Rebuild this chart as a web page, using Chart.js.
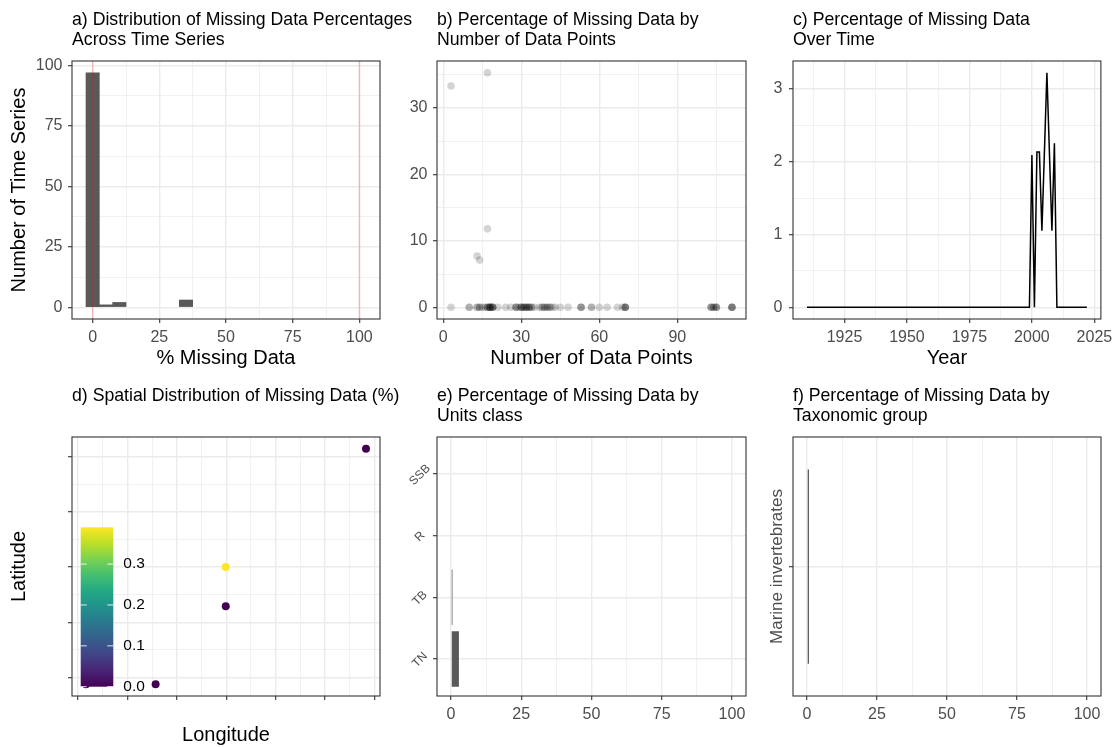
<!DOCTYPE html>
<html>
<head>
<meta charset="utf-8">
<title>Missing data overview</title>
<script src="https://cdn.jsdelivr.net/npm/chart.js@4.4.1/dist/chart.umd.min.js"></script>
<style>
  html, body { margin: 0; padding: 0; background: #ffffff; }
  #wrap { position: relative; width: 1117px; height: 747px; }
  #wrap canvas { position: absolute; left: 0; top: 0; }
</style>
</head>
<body>
<div id="wrap">
  <canvas id="pa" width="1117" height="747"></canvas>
  <canvas id="pb" width="1117" height="747"></canvas>
  <canvas id="pc" width="1117" height="747"></canvas>
  <canvas id="pd" width="1117" height="747"></canvas>
  <canvas id="pe" width="1117" height="747"></canvas>
  <canvas id="pf" width="1117" height="747"></canvas>
</div>
<script>
// a) histogram of % missing per series (bin centres, binwidth 5)
var histBins = [0, 5, 10, 35];
var histCounts = [97, 1, 2, 3];
var refLines = [0, 100];

// b) % missing vs number of data points, one entry per series
var nPoints = [3, 17, 17, 13, 14,
  3, 10, 10, 13, 13, 14, 14, 15, 16, 17, 17, 17, 18, 18, 18, 18, 18, 19, 19, 19,
  19, 21, 24, 26, 28, 28, 28, 29, 30, 30, 30, 31, 31, 31, 32, 32, 32, 33, 33, 33,
  34, 34, 35, 37, 38, 38, 39, 39, 40, 40, 41, 41, 42, 43, 45, 48, 53, 53, 53, 57,
  57, 60, 63, 67, 69, 70, 70, 70, 70, 103, 103, 103, 104, 104, 105, 105, 105, 111,
  111, 111, 111];
var pctMissing = [33.3, 35.3, 11.8, 7.7, 7.1,
  0, 0, 0, 0, 0, 0, 0, 0, 0, 0, 0, 0, 0, 0, 0, 0, 0, 0, 0, 0,
  0, 0, 0, 0, 0, 0, 0, 0, 0, 0, 0, 0, 0, 0, 0, 0, 0, 0, 0, 0,
  0, 0, 0, 0, 0, 0, 0, 0, 0, 0, 0, 0, 0, 0, 0, 0, 0, 0, 0, 0,
  0, 0, 0, 0, 0, 0, 0, 0, 0, 0, 0, 0, 0, 0, 0, 0, 0, 0,
  0, 0, 0];

// c) % missing per year
var years = [1910, 1999, 2000, 2001, 2002, 2003, 2004, 2005, 2006, 2007, 2008, 2009, 2010, 2022];
var yearPct = [0, 0, 2.09, 0, 2.13, 2.13, 1.05, 2.13, 3.22, 2.13, 1.05, 2.25, 0, 0];

// d) spatial (axis tick units, labels not shown in the source)
var lon = [0.16, 1.57, 2.99, 2.99, 5.83];
var lat = [-0.12, -0.12, 2.0, 1.29, 4.14];
var spatialPct = [0, 0, 0.39, 0, 0];
var colorbarTicks = [0, 0.1, 0.2, 0.3];

// e) units class
var unitClasses = ['TN', 'TB', 'R', 'SSB'];
var unitPct = [2.8, 0.5, 0, 0];

// f) taxonomic group
var taxa = ['Marine invertebrates'];
var taxaPct = [0.7];

var W = 1117, H = 747;
var FONT = '"Liberation Sans", Arial, Helvetica, sans-serif';
Chart.defaults.font.family = FONT;
Chart.defaults.color = '#4D4D4D';

var VIRIDIS = ['#440154', '#482475', '#414487', '#355F8D', '#2A788E', '#21918C',
  '#22A884', '#44BF70', '#7AD151', '#BDDF26', '#FDE725'];

function hexRgb(h) {
  return [parseInt(h.substr(1, 2), 16), parseInt(h.substr(3, 2), 16), parseInt(h.substr(5, 2), 16)];
}
function viridis(t) {
  t = Math.max(0, Math.min(1, t));
  var p = t * (VIRIDIS.length - 1), i = Math.floor(p), f = p - i;
  if (i >= VIRIDIS.length - 1) return VIRIDIS[VIRIDIS.length - 1];
  var a = hexRgb(VIRIDIS[i]), b = hexRgb(VIRIDIS[i + 1]);
  return 'rgb(' + [0, 1, 2].map(function (k) { return Math.round(a[k] + (b[k] - a[k]) * f); }).join(',') + ')';
}

// ggplot style 5% expansion
function expand(lo, hi) {
  var d = (hi - lo) * 0.05;
  return [lo - d, hi + d];
}

// plot areas of the 6 panels
var plots = {
  a: { l: 72, t: 61, r: 380, b: 319 },
  b: { l: 437, t: 61, r: 746, b: 319 },
  c: { l: 793, t: 61, r: 1102, b: 319 },
  d: { l: 72, t: 437, r: 380, b: 696 },
  e: { l: 437, t: 437, r: 746, b: 696 },
  f: { l: 793, t: 437, r: 1101, b: 696 }
};
var PAD_LEFT = 7.5, X_AXIS_H = 51, TICK_SIZE = 16;

function layoutFor(p) {
  return { padding: { left: PAD_LEFT, top: p.t, right: W - p.r, bottom: H - p.b - X_AXIS_H } };
}

function axis(o) {
  var majors = o.majors, minors = o.minors || [];
  var isMajor = function (v) { return majors.indexOf(v) !== -1; };
  return {
    type: 'linear',
    min: o.min,
    max: o.max,
    offset: false,
    afterBuildTicks: function (s) {
      s.ticks = majors.concat(minors).sort(function (a, b) { return a - b; })
        .map(function (v) { return { value: v }; });
    },
    afterFit: function (s) {
      if (s.isHorizontal()) s.height = o.size; else s.width = o.size;
    },
    border: { display: false },
    grid: {
      offset: false,
      tickLength: 4,
      color: '#EBEBEB',
      lineWidth: function (c) { return c.tick && isMajor(c.tick.value) ? 1.4 : 0.7; },
      tickColor: function (c) { return c.tick && isMajor(c.tick.value) ? '#333333' : 'rgba(0,0,0,0)'; },
      tickWidth: 1.1
    },
    ticks: {
      autoSkip: false,
      padding: o.pad,
      color: '#4D4D4D',
      font: { size: TICK_SIZE },
      minRotation: 0,
      maxRotation: 0,
      callback: function (v) {
        if (!isMajor(v)) return '';
        return o.label ? o.label(v) : String(v);
      }
    },
    title: {
      display: !!o.title,
      text: o.title || '',
      color: '#000000',
      font: { size: 20 },
      padding: 0
    }
  };
}

// panel border + panel title
var frame = {
  id: 'frame',
  afterDraw: function (chart, args, o) {
    var a = chart.chartArea, ctx = chart.ctx;
    ctx.save();
    ctx.strokeStyle = '#333333';
    ctx.lineWidth = 1.1;
    ctx.strokeRect(a.left, a.top, a.right - a.left, a.bottom - a.top);
    ctx.fillStyle = '#000000';
    ctx.font = '17.7px ' + FONT;
    ctx.textAlign = 'left';
    ctx.textBaseline = 'middle';
    (o.title || []).forEach(function (line, i) {
      ctx.fillText(line, a.left, a.top - 40.5 + i * 19.5);
    });
    ctx.restore();
  }
};

var vlines = {
  id: 'vlines',
  afterDatasetsDraw: function (chart, args, o) {
    var s = chart.scales.x, a = chart.chartArea, ctx = chart.ctx;
    ctx.save();
    ctx.strokeStyle = o.color;
    ctx.lineWidth = 1.5;
    o.values.forEach(function (v) {
      var x = s.getPixelForValue(v);
      ctx.beginPath();
      ctx.moveTo(x, a.top);
      ctx.lineTo(x, a.bottom);
      ctx.stroke();
    });
    ctx.restore();
  }
};

var colorbar = {
  id: 'colorbar',
  afterDatasetsDraw: function (chart, args, o) {
    var a = chart.chartArea, ctx = chart.ctx;
    var x0 = a.left + o.dx, y1 = a.bottom - o.dy, y0 = y1 - o.h;
    var g = ctx.createLinearGradient(0, y1, 0, y0);
    VIRIDIS.forEach(function (c, i) { g.addColorStop(i / (VIRIDIS.length - 1), c); });
    ctx.save();
    ctx.fillStyle = g;
    ctx.fillRect(x0, y0, o.w, o.h);
    ctx.font = '15.5px ' + FONT;
    ctx.textAlign = 'left';
    ctx.textBaseline = 'middle';
    o.ticks.forEach(function (v) {
      var y = y1 - v / o.max * o.h;
      ctx.strokeStyle = 'rgba(255,255,255,0.85)';
      ctx.lineWidth = 1;
      ctx.beginPath();
      ctx.moveTo(x0, y); ctx.lineTo(x0 + 6, y);
      ctx.moveTo(x0 + o.w - 6, y); ctx.lineTo(x0 + o.w, y);
      ctx.stroke();
      ctx.fillStyle = '#000000';
      ctx.fillText(v.toFixed(1), x0 + o.w + 10, y);
    });
    ctx.restore();
  }
};

// rotated category labels centred on their tick (panels e, f)
var rotCats = {
  id: 'rotCats',
  afterDraw: function (chart, args, o) {
    var s = chart.scales.y, ctx = chart.ctx, a = chart.chartArea;
    ctx.save();
    ctx.font = o.size + 'px ' + FONT;
    ctx.fillStyle = '#4D4D4D';
    ctx.textAlign = 'center';
    ctx.textBaseline = 'middle';
    o.labels.forEach(function (lab, i) {
      ctx.save();
      ctx.translate(a.left - o.gap, s.getPixelForValue(i) + (o.dy || 0));
      ctx.rotate(-o.angle * Math.PI / 180);
      ctx.fillText(lab, 0, 0);
      ctx.restore();
    });
    ctx.restore();
  }
};

function baseOptions(p) {
  return {
    responsive: false,
    animation: false,
    devicePixelRatio: 1,
    layout: layoutFor(p),
    plugins: { legend: { display: false }, tooltip: { enabled: false } }
  };
}

var pct0to100 = { majors: [0, 25, 50, 75, 100], minors: [12.5, 37.5, 62.5, 87.5] };

// ---- a
var optA = baseOptions(plots.a);
var ray = expand(0, Math.max.apply(null, histCounts));
optA.scales = {
  x: axis({ min: -7.75, max: 107.75, majors: pct0to100.majors, minors: pct0to100.minors,
    size: X_AXIS_H, pad: 4.5, title: '% Missing Data' }),
  y: axis({ min: ray[0], max: ray[1], majors: [0, 25, 50, 75, 100], minors: [12.5, 37.5, 62.5, 87.5],
    size: plots.a.l - PAD_LEFT, pad: 5.5, title: 'Number of Time Series' })
};
optA.plugins.frame = { title: ['a) Distribution of Missing Data Percentages', 'Across Time Series'] };
optA.plugins.vlines = { values: refLines, color: 'rgba(255,0,0,0.22)' };
new Chart(document.getElementById('pa'), {
  type: 'bar',
  data: {
    datasets: [{
      data: histBins.map(function (b, i) { return { x: b, y: histCounts[i] }; }),
      backgroundColor: '#595959',
      borderWidth: 0,
      barPercentage: 1,
      categoryPercentage: 1
    }]
  },
  options: optA,
  plugins: [frame, vlines]
});

// ---- b
var rbx = expand(Math.min.apply(null, nPoints), Math.max.apply(null, nPoints));
var rby = expand(0, Math.max.apply(null, pctMissing));
var optB = baseOptions(plots.b);
optB.scales = {
  x: axis({ min: rbx[0], max: rbx[1], majors: [0, 30, 60, 90], minors: [15, 45, 75, 105],
    size: X_AXIS_H, pad: 4.5, title: 'Number of Data Points' }),
  y: axis({ min: rby[0], max: rby[1], majors: [0, 10, 20, 30], minors: [5, 15, 25, 35],
    size: plots.b.l - PAD_LEFT, pad: 5.5 })
};
optB.plugins.frame = { title: ['b) Percentage of Missing Data by', 'Number of Data Points'] };
new Chart(document.getElementById('pb'), {
  type: 'scatter',
  data: {
    datasets: [{
      data: nPoints.map(function (n, i) { return { x: n, y: pctMissing[i] }; }),
      backgroundColor: 'rgba(0,0,0,0.17)',
      borderWidth: 0,
      pointRadius: 3.8
    }]
  },
  options: optB,
  plugins: [frame]
});

// ---- c
var rcx = expand(years[0], years[years.length - 1]);
var rcy = expand(0, Math.max.apply(null, yearPct));
var optC = baseOptions(plots.c);
optC.scales = {
  x: axis({ min: rcx[0], max: rcx[1], majors: [1925, 1950, 1975, 2000, 2025],
    minors: [1912.5, 1937.5, 1962.5, 1987.5, 2012.5], size: X_AXIS_H, pad: 4.5, title: 'Year' }),
  y: axis({ min: rcy[0], max: rcy[1], majors: [0, 1, 2, 3], minors: [0.5, 1.5, 2.5],
    size: plots.c.l - PAD_LEFT, pad: 6.5 })
};
optC.plugins.frame = { title: ['c) Percentage of Missing Data', 'Over Time'] };
new Chart(document.getElementById('pc'), {
  type: 'line',
  data: {
    datasets: [{
      data: years.map(function (y, i) { return { x: y, y: yearPct[i] }; }),
      borderColor: '#000000',
      borderWidth: 1.5,
      pointRadius: 0,
      tension: 0,
      fill: false
    }]
  },
  options: optC,
  plugins: [frame]
});

// ---- d
var rdx = expand(Math.min.apply(null, lon), Math.max.apply(null, lon));
var rdy = expand(Math.min.apply(null, lat), Math.max.apply(null, lat));
var pctMax = Math.max.apply(null, spatialPct);
var blank = function () { return ''; };
var optD = baseOptions(plots.d);
optD.scales = {
  x: axis({ min: rdx[0], max: rdx[1], majors: [0, 1, 2, 3, 4, 5, 6],
    minors: [0.5, 1.5, 2.5, 3.5, 4.5, 5.5], size: X_AXIS_H, pad: 4.5, title: 'Longitude', label: blank }),
  y: axis({ min: rdy[0], max: rdy[1], majors: [0, 1, 2, 3, 4], minors: [0.5, 1.5, 2.5, 3.5],
    size: plots.d.l - PAD_LEFT, pad: 5.5, title: 'Latitude', label: blank })
};
optD.plugins.frame = { title: ['d) Spatial Distribution of Missing Data (%)'] };
optD.plugins.colorbar = { dx: 8.7, dy: 9.3, w: 32.6, h: 159.4, max: pctMax, ticks: colorbarTicks };
new Chart(document.getElementById('pd'), {
  type: 'scatter',
  data: {
    datasets: [{
      data: lon.map(function (x, i) { return { x: x, y: lat[i] }; }),
      backgroundColor: spatialPct.map(function (v) { return viridis(v / pctMax); }),
      borderWidth: 0,
      pointRadius: 4
    }]
  },
  options: optD,
  plugins: [frame, colorbar]
});

// ---- e
var re = expand(0, 100);
var optE = baseOptions(plots.e);
optE.indexAxis = 'y';
optE.scales = {
  x: axis({ min: re[0], max: re[1], majors: pct0to100.majors, minors: pct0to100.minors,
    size: X_AXIS_H, pad: 4.5 }),
  y: axis({ min: -0.6, max: unitClasses.length - 1 + 0.6, majors: [0, 1, 2, 3],
    size: plots.e.l - PAD_LEFT, pad: 2, label: blank })
};
optE.plugins.frame = { title: ['e) Percentage of Missing Data by', 'Units class'] };
optE.plugins.rotCats = { labels: unitClasses, size: 12, gap: 17, dy: 1, angle: 45 };
new Chart(document.getElementById('pe'), {
  type: 'bar',
  data: {
    datasets: [{
      data: unitClasses.map(function (c, i) { return { x: unitPct[i], y: i }; }),
      backgroundColor: '#595959',
      borderWidth: 0,
      barPercentage: 0.9,
      categoryPercentage: 1
    }]
  },
  options: optE,
  plugins: [frame, rotCats]
});

// ---- f
var optF = baseOptions(plots.f);
optF.indexAxis = 'y';
optF.scales = {
  x: axis({ min: re[0], max: re[1], majors: pct0to100.majors, minors: pct0to100.minors,
    size: X_AXIS_H, pad: 4.5 }),
  y: axis({ min: -0.6, max: taxa.length - 1 + 0.6, majors: [0],
    size: plots.f.l - PAD_LEFT, pad: 5.5, label: blank })
};
optF.plugins.frame = { title: ['f) Percentage of Missing Data by', 'Taxonomic group'] };
optF.plugins.rotCats = { labels: taxa, size: 17, gap: 16, angle: 90 };
new Chart(document.getElementById('pf'), {
  type: 'bar',
  data: {
    datasets: [{
      data: taxa.map(function (c, i) { return { x: taxaPct[i], y: i }; }),
      backgroundColor: '#595959',
      borderWidth: 0,
      barPercentage: 0.9 / 1.2,
      categoryPercentage: 1
    }]
  },
  options: optF,
  plugins: [frame, rotCats]
});
</script>
</body>
</html>
